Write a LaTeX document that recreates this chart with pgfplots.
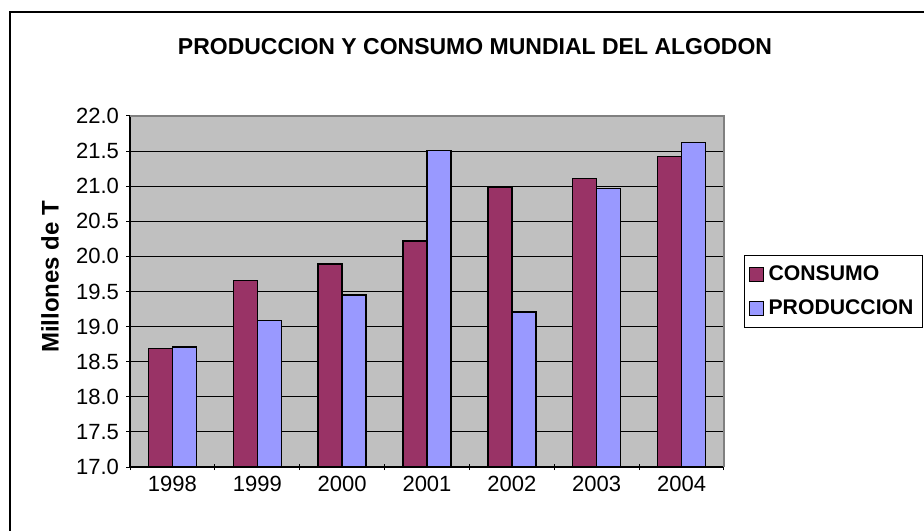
\documentclass[border=0pt]{standalone}
\usepackage{pgfplots}
\pgfplotsset{compat=1.18}
\usepackage{fontspec}
\setmainfont{Liberation Sans}
\definecolor{plotgray}{HTML}{C0C0C0}
\definecolor{consumo}{HTML}{993366}
\definecolor{produccion}{HTML}{9999FF}
\definecolor{bordergray}{HTML}{808080}
\begin{document}
\begin{tikzpicture}
\useasboundingbox (0,0) rectangle (462pt,265pt);
\draw[line width=1pt] (5pt,-10pt) -- (5pt,259pt) -- (480pt,259pt);
\node[font=\fontsize{11.5}{13}\selectfont\bfseries] at (237.5pt,241.5pt) {PRODUCCION Y CONSUMO MUNDIAL DEL ALGODON};
\node[font=\fontsize{12}{14}\selectfont\bfseries, rotate=90, anchor=west] at (25pt,85pt) {Millones de T};
\begin{axis}[
  at={(65pt,31.5pt)}, anchor=south west,
  scale only axis, width=297pt, height=175.5pt,
  ybar, bar width=12pt, ybar=0pt,
  legend image code/.code={\draw[#1,line width=0.5pt] (0pt,-3.5pt) rectangle (7pt,3.5pt);},
  ymin=17, ymax=22,
  ytick={17,17.5,...,22},
  xmin=-0.5, xmax=6.5,
  xtick={0,...,6},
  xticklabels={1998,1999,2000,2001,2002,2003,2004},
  minor xtick={-0.5,0.5,...,6.5},
  major x tick style={draw=none},
  minor x tick style={black, line width=0.5pt},
  minor tick length=3pt,
  major tick length=4pt,
  tick align=outside,
  y tick style={black, line width=0.5pt},
  axis x line=bottom, axis y line=left,
  axis line style={-, black, line width=0.6pt},
  axis background/.style={fill=plotgray},
  ymajorgrids, grid style={black, line width=0.5pt},
  ticklabel style={font=\fontsize{11}{13}\selectfont},
  /pgf/number format/assume math mode=true,
  yticklabel style={/pgf/number format/.cd, fixed, fixed zerofill, precision=1},
  xticklabel style={yshift=1pt},
  after end axis/.code={\draw[bordergray, line width=0.6pt] (rel axis cs:0,1) -- (rel axis cs:1,1) -- (rel axis cs:1,0);},
  legend style={at={(1,0.5)}, anchor=west, xshift=10pt, draw=black, line width=0.6pt, fill=white,
    font=\fontsize{10.6}{12}\selectfont\bfseries, row sep=4pt, inner xsep=2pt, inner ysep=3pt,
    nodes={inner xsep=2.5pt}},
  legend cell align=left,
]
\addplot[fill=consumo, draw=black, line width=0.7pt] coordinates {(0,18.69) (1,19.66) (2,19.89) (3,20.22) (4,20.99) (5,21.11) (6,21.42)};
\addplot[fill=produccion, draw=black, line width=0.7pt] coordinates {(0,18.71) (1,19.09) (2,19.45) (3,21.51) (4,19.21) (5,20.97) (6,21.62)};
\legend{CONSUMO, PRODUCCION}
\end{axis}
\end{tikzpicture}
\end{document}
